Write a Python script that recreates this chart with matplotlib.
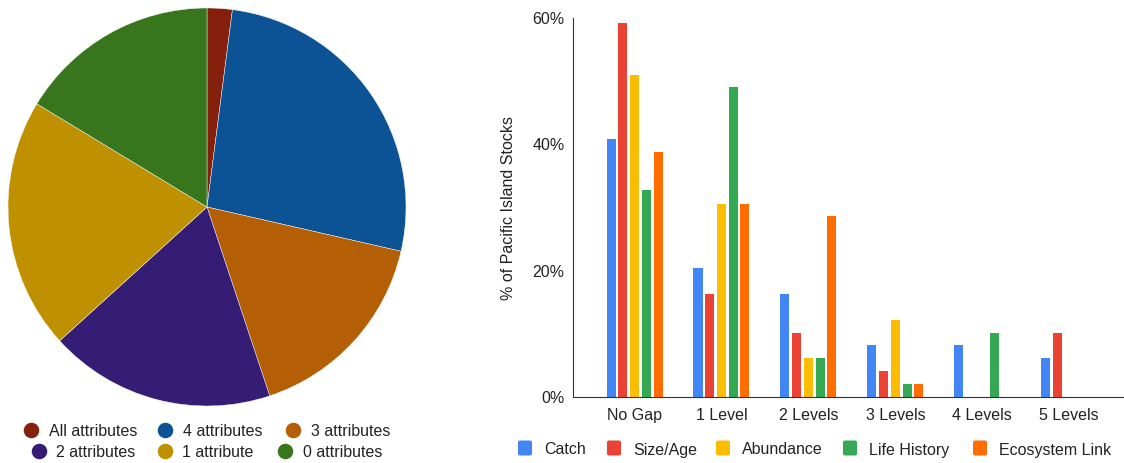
import matplotlib.pyplot as plt
import numpy as np
from matplotlib.patches import FancyBboxPatch

plt.rcParams['font.family'] = ['Liberation Sans', 'DejaVu Sans']

# pie data (counts of stocks)
pie_labels = ['All attributes', '4 attributes', '3 attributes',
              '2 attributes', '1 attribute', '0 attributes']
pie_counts = [1, 13, 8, 9, 10, 8]
pie_colors = ['#85200C', '#0B5394', '#B45F06', '#351C75', '#BF9000', '#38761D']

# bar data (% of Pacific Island stocks)
levels = ['No Gap', '1 Level', '2 Levels', '3 Levels', '4 Levels', '5 Levels']
series = ['Catch', 'Size/Age', 'Abundance', 'Life History', 'Ecosystem Link']
catch = [40.8, 20.4, 16.3, 8.2, 8.2, 6.1]
size_age = [59.2, 16.3, 10.2, 4.1, 0, 10.2]
abundance = [51.0, 30.6, 6.1, 12.2, 0, 0]
life_history = [32.7, 49.0, 6.1, 2.0, 10.2, 0]
eco_link = [38.8, 30.6, 28.6, 2.0, 0, 0]
bar_colors = ['#4285F4', '#EA4335', '#FBBC04', '#34A853', '#FF6D01']

fig = plt.figure(figsize=(11.24, 4.63), dpi=100)
W, H = 1124, 463

# pie on the left
cx, cy, r = 207, 207, 199
ax1 = fig.add_axes([(cx - r) / W, 1 - (cy + r) / H, 2 * r / W, 2 * r / H])
ax1.pie(pie_counts, colors=pie_colors, startangle=90, counterclock=False,
        wedgeprops=dict(edgecolor='white', linewidth=0.3))
ax1.set_xlim(-1, 1)
ax1.set_ylim(-1, 1)
ax1.set_aspect('equal')

# overlay in pixel coords for the hand placed legends
lax = fig.add_axes([0, 0, 1, 1], zorder=-1)
lax.set_xlim(0, W)
lax.set_ylim(H, 0)
lax.axis('off')

# pie legend, two centred rows
pos = [(31, 430), (165, 430), (293, 430), (38.5, 451), (164.5, 451), (285, 451)]
for (px, py), lab, col in zip(pos, pie_labels, pie_colors):
    lax.scatter([px], [py], s=125, color=col, marker='o', linewidths=0)
    lax.text(px + 18, py, lab, fontsize=11.5, va='center_baseline', color='#222222')

# bar legend
sq_left = [518, 607, 716, 843, 973]
for sx, lab, col in zip(sq_left, series, bar_colors):
    lax.add_patch(FancyBboxPatch((sx + 1.5, 442), 11, 12, boxstyle='round,pad=1.5,rounding_size=2',
                                 color=col, linewidth=0))
    lax.text(sx + 26, 448.5, lab, fontsize=11.5, va='center_baseline', color='#222222')

# grouped bars on the right
ax2 = fig.add_axes([573 / W, 1 - 397 / H, (1124 - 573) / W, (397 - 18) / H])
x = np.arange(len(levels))
pitch = 0.135
width = 0.104
for i, (vals, col) in enumerate(zip([catch, size_age, abundance, life_history, eco_link], bar_colors)):
    ax2.bar(x + (i - 2) * pitch, vals, width=width, color=col, label=series[i])

ax2.set_xlim(-0.708, 5.63)
ax2.set_ylim(0, 60)
ax2.set_yticks([0, 20, 40, 60])
ax2.set_yticklabels(['0%', '20%', '40%', '60%'])
ax2.set_xticks(x)
ax2.set_xticklabels(levels)
ax2.tick_params(length=0, labelsize=11.5, colors='#222222', pad=8)
ax2.tick_params(axis='y', pad=6)
for s in ['top', 'right']:
    ax2.spines[s].set_visible(False)
ax2.spines['left'].set_color('#333333')
ax2.spines['bottom'].set_color('#333333')
ax2.set_ylabel('% of Pacific Island Stocks', fontsize=11.5, color='#222222', labelpad=12)

fig.savefig('out.png', dpi=100)
